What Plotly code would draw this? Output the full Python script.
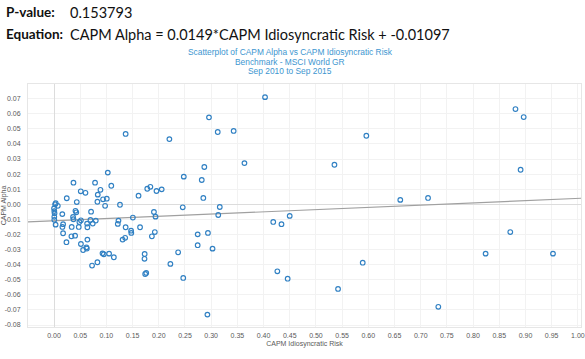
import plotly.graph_objects as go

# ---- data ----
idio_risk = [
    0.4028, 0.2958, 0.3125, 0.3429, 0.2202, 0.3635, 0.5962, 0.5353, 0.2869, 0.2477,
    0.2820, 0.2055, 0.2850, 0.2457, 0.3164, 0.3135, 0.4499, 0.4185, 0.4342, 0.6610,
    0.2742, 0.2938, 0.2742, 0.3026, 0.2369, 0.2221, 0.2467, 0.4263, 0.4460, 0.5893,
    0.5422, 0.2928, 0.7140, 0.8809, 0.8966, 0.8907, 0.8710, 0.8239, 0.9525, 0.7336,
    0.1367,
    0.1026, 0.0371, 0.0783, 0.1093, 0.0886, 0.0510, 0.0600, 0.0835, 0.0243, 0.0936,
    0.1007, 0.0434, 0.0828, 0.0032, 0.0072, 0.1259, 0.0975, 0.1613, 0.1780, 0.1839,
    0.1956,
    0.0020, 0.0000, 0.0005, 0.0010, 0.0005, 0.0005, 0.0030,
    0.0158, 0.0409, 0.0425, 0.0707, 0.0363, 0.0371, 0.0513, 0.0484, 0.0695, 0.0797,
    0.0631, 0.0739, 0.1230, 0.1217, 0.1505, 0.1907, 0.1937, 0.0173, 0.0160, 0.0337,
    0.0472, 0.0637, 0.1367, 0.1642, 0.1471, 0.1475, 0.1924, 0.1868, 0.0173, 0.0332,
    0.0402, 0.1309, 0.1358, 0.0237, 0.0637, 0.0513, 0.0618, 0.0626, 0.0555, 0.0925,
    0.0950, 0.1051, 0.1142, 0.0828, 0.0726, 0.1730, 0.1727, 0.1740, 0.1760,
]
capm_alpha = [
    0.0710, 0.0576, 0.0479, 0.0486, 0.0432, 0.0273, 0.0454, 0.0262, 0.0247, 0.0183,
    0.0161, 0.0099, 0.0042, -0.0020, -0.0018, -0.0071, -0.0077, -0.0117, -0.0132, 0.0029,
    -0.0199, -0.0190, -0.0271, -0.0294, -0.0318, -0.0395, -0.0488, -0.0444, -0.0493, -0.0387,
    -0.0561, -0.0731, 0.0042, 0.0631, 0.0578, 0.0229, -0.0184, -0.0327, -0.0327, -0.0679,
    0.0466,
    0.0210, 0.0143, 0.0143, 0.0123, 0.0096, 0.0086, 0.0076, 0.0064, 0.0040, 0.0033,
    0.0037, 0.0015, 0.0017, 0.0007, -0.0010, -0.0003, -0.0010, 0.0057, 0.0103, 0.0116,
    0.0088,
    0.0000, -0.0027, -0.0045, -0.0060, -0.0083, -0.0103, -0.0135,
    -0.0065, -0.0043, -0.0053, -0.0049, -0.0084, -0.0099, -0.0106, -0.0117, -0.0104, -0.0108,
    -0.0128, -0.0128, -0.0108, -0.0130, -0.0088, -0.0051, -0.0082, -0.0132, -0.0150, -0.0150,
    -0.0150, -0.0152, -0.0152, -0.0152, -0.0175, -0.0190, -0.0184, -0.0212, -0.0192, -0.0212,
    -0.0208, -0.0234, -0.0222, -0.0251, -0.0234, -0.0263, -0.0285, -0.0293, -0.0303, -0.0325,
    -0.0331, -0.0327, -0.0351, -0.0384, -0.0406, -0.0329, -0.0361, -0.0462, -0.0455,
]
slope = 0.0149
intercept = -0.01097
p_value = "0.153793"

x_tick_vals = [i * 0.05 for i in range(21)]
x_tick_text = ["0.00", "0.05", "0.10", "0.15", "0.20", "0.25", "0.30", "0.35", "0.40", "0.45",
               "0.50", "0.55", "0.60", "0.65", "0.70", "0.75", "0.80", "0.85", "0.90", "0.95", "1.00"]
y_tick_vals = [0.07, 0.06, 0.05, 0.04, 0.03, 0.02, 0.01, 0.0, -0.01, -0.02, -0.03, -0.04,
               -0.05, -0.06, -0.07, -0.08]
y_tick_text = ["0.07", "0.06", "0.05", "0.04", "0.03", "0.02", "0.01", "0.00", "-0.01", "-0.02",
               "-0.03", "-0.04", "-0.05", "-0.06", "-0.07", "-0.08"]

x_range = [-0.0497, 1.006]
y_range = [-0.0813, 0.0797]

fig = go.Figure()
trend_x = [x_range[0], x_range[1]]
trend_y = [slope * v + intercept for v in trend_x]
fig.add_trace(go.Scatter(x=trend_x, y=trend_y, mode="lines",
                         line=dict(color="#a0a0a0", width=1.2), hoverinfo="skip",
                         showlegend=False))
fig.add_trace(go.Scatter(x=idio_risk, y=capm_alpha, mode="markers",
                         marker=dict(symbol="circle-open", size=4.6, color="#3080c3",
                                     line=dict(width=1.2, color="#3080c3")),
                         showlegend=False))

axis_font = dict(family="Liberation Sans, Arial, sans-serif", size=7, color="#5a5a5a")
fig.update_layout(
    width=585, height=359,
    margin=dict(l=28, r=4, t=84, b=32),
    paper_bgcolor="white", plot_bgcolor="white",
    font=dict(family="Liberation Sans, Arial, sans-serif"),
    xaxis=dict(range=x_range, tickvals=x_tick_vals, ticktext=x_tick_text,
               tickfont=axis_font, showgrid=True, gridcolor="#f2f2f2", gridwidth=1,
               zeroline=True, zerolinecolor="#dcdcdc", zerolinewidth=1,
               showline=True, linecolor="#e6e6e6", linewidth=1, mirror=True,
               ticks="", ticklabelstandoff=2, automargin=False,
               title=dict(text="CAPM Idiosyncratic Risk", font=axis_font, standoff=2)),
    yaxis=dict(range=y_range, tickvals=y_tick_vals, ticktext=y_tick_text,
               tickfont=axis_font, showgrid=True, gridcolor="#f2f2f2", gridwidth=1,
               zeroline=True, zerolinecolor="#dcdcdc", zerolinewidth=1,
               showline=True, linecolor="#e6e6e6", linewidth=1, mirror=True,
               ticks="", ticklabelstandoff=5, automargin=False,
               title=dict(text="CAPM Alpha", font=axis_font, standoff=0)),
)

title_font = dict(family="Liberation Sans, Arial, sans-serif", size=8.4, color="#3d96d0")
title_lines = ["Scatterplot of CAPM Alpha vs CAPM Idiosyncratic Risk",
               "Benchmark - MSCI World GR",
               "Sep 2010 to Sep 2015"]
for i, t in enumerate(title_lines):
    fig.add_annotation(text=t, xref="paper", yref="paper", x=(290 - 28) / 553,
                       y=(327 - (52 + 9.5 * i)) / 243, xanchor="center", yanchor="middle",
                       showarrow=False, font=title_font)

label_font = dict(family="Lato, Carlito, sans-serif", size=13.5, color="#111111")
value_font = dict(family="Lato, Carlito, sans-serif", size=14.5, color="#111111")
fig.add_annotation(text="<b>P-value:</b>", xref="paper", yref="paper",
                   x=(4 - 28) / 553, y=(327 - 12) / 243, xanchor="left", yanchor="middle",
                   showarrow=False, font=label_font)
fig.add_annotation(text=p_value, xref="paper", yref="paper",
                   x=(68 - 28) / 553, y=(327 - 12) / 243, xanchor="left", yanchor="middle",
                   showarrow=False, font=value_font)
fig.add_annotation(text="<b>Equation:</b>", xref="paper", yref="paper",
                   x=(4 - 28) / 553, y=(327 - 34) / 243, xanchor="left", yanchor="middle",
                   showarrow=False, font=label_font)
fig.add_annotation(text=f"CAPM Alpha = {slope}*CAPM Idiosyncratic Risk + {intercept}",
                   xref="paper", yref="paper",
                   x=(68 - 28) / 553, y=(327 - 34) / 243, xanchor="left", yanchor="middle",
                   showarrow=False, font=value_font)

fig.write_html("out.html", config={"displayModeBar": False},
               post_script="document.body.style.margin='0';document.body.style.overflow='hidden';")
